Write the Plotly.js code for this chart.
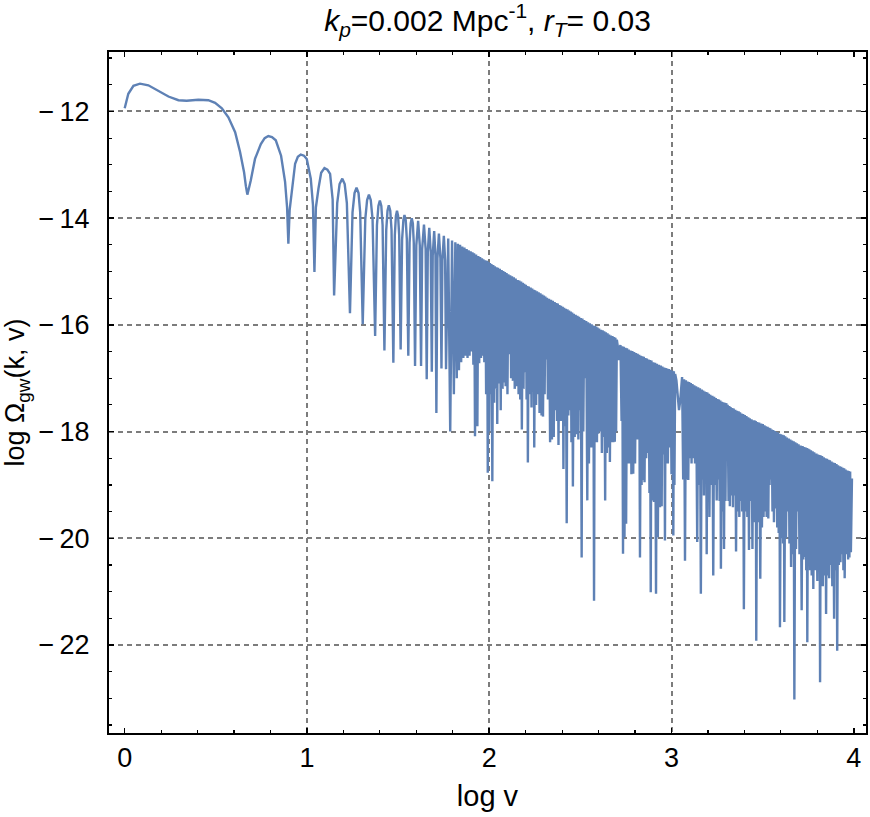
<!DOCTYPE html>
<html>
<head>
<meta charset="utf-8">
<script src="https://cdn.plot.ly/plotly-3.0.1.min.js"></script>
<style>html,body{margin:0;padding:0;background:#fff;}#chart{width:870px;height:817px;}</style>
</head>
<body>
<div id="chart"></div>
<script>
// ---- values: [log v, log Omega_gw] ----
const smoothStart = [
  [0.000,-11.94],[0.020,-11.67],[0.048,-11.52],[0.084,-11.48],[0.130,-11.51],[0.185,-11.61],
  [0.240,-11.72],[0.295,-11.79],[0.340,-11.80],[0.404,-11.78],[0.459,-11.79],[0.496,-11.84],
  [0.533,-11.94],[0.569,-12.11],[0.606,-12.39],[0.633,-12.76],[0.655,-13.14],[0.665,-13.40],
  [0.673,-13.56],[0.681,-13.45],[0.692,-13.29],[0.715,-12.89],[0.747,-12.61],[0.768,-12.50],
  [0.788,-12.46],[0.808,-12.48],[0.829,-12.54],[0.858,-12.83],[0.880,-13.32],[0.891,-13.80],
  [0.898,-14.48],[0.905,-13.85],[0.917,-13.45],[0.935,-12.98],[0.950,-12.85],[0.966,-12.81],
  [0.984,-12.83],[0.999,-12.89],[1.021,-13.26],[1.033,-13.75],[1.041,-15.01],[1.049,-13.80],
  [1.063,-13.45],[1.078,-13.15],[1.096,-13.06],[1.112,-13.09],[1.127,-13.17],[1.141,-13.65],
  [1.149,-15.45]
];
const lobes = [
  [1.166,-13.72],[1.179,-13.36],[1.194,-13.26],[1.207,-13.36],[1.219,-13.72],[1.236,-15.78],
  [1.250,-13.89],[1.261,-13.53],[1.272,-13.43],[1.283,-13.53],[1.292,-13.89],[1.306,-15.99],
  [1.320,-14.02],[1.330,-13.66],[1.340,-13.56],[1.350,-13.66],[1.360,-14.02],[1.374,-16.21],
  [1.384,-14.13],[1.392,-13.77],[1.400,-13.67],[1.408,-13.77],[1.415,-14.13],[1.425,-16.48],
  [1.435,-14.22],[1.442,-13.86],[1.449,-13.76],[1.457,-13.86],[1.464,-14.22],[1.474,-16.71],
  [1.482,-14.32],[1.488,-13.96],[1.494,-13.86],[1.500,-13.96],[1.506,-14.32],[1.514,-16.46],
  [1.522,-14.40],[1.529,-14.04],[1.535,-13.94],[1.542,-14.04],[1.548,-14.40],[1.556,-16.58],
  [1.563,-14.46],[1.569,-14.10],[1.575,-14.00],[1.581,-14.10],[1.586,-14.46],[1.593,-16.77],
  [1.600,-14.51],[1.610,-14.05],[1.619,-14.51],[1.626,-16.77],
  [1.632,-14.58],[1.642,-14.12],[1.651,-14.58],[1.657,-17.02],
  [1.663,-14.64],[1.671,-14.18],[1.679,-14.64],[1.685,-16.88],
  [1.690,-14.70],[1.698,-14.24],[1.705,-14.70],[1.710,-17.65],
  [1.716,-14.75],[1.724,-14.29],[1.732,-14.75],[1.738,-16.82],
  [1.743,-14.79],[1.751,-14.33],[1.758,-14.79],[1.763,-16.83],
  [1.775,-14.38],[1.786,-18.00],[1.796,-14.42],[1.806,-17.30],[1.814,-14.45]
];
const denseLow = [
  [1.822,-17.00],[1.828,-14.48],[1.834,-16.85],[1.840,-14.50],[1.846,-16.70],[1.852,-14.53],
  [1.858,-16.62],[1.864,-14.55],[1.870,-16.58],[1.876,-14.58],[1.881,-16.62],[1.887,-14.60],
  [1.892,-16.58],[1.898,-14.62],[1.903,-16.50],[1.908,-14.64],[1.913,-16.75],[1.917,-14.66],
  [1.922,-18.09],[1.928,-14.68],[1.935,-17.90],[1.940,-14.71],[1.945,-16.72],[1.950,-14.73],
  [1.955,-16.62],[1.960,-14.75],[1.964,-16.58],[1.968,-14.77],[1.973,-16.70],[1.978,-14.79],
  [1.983,-17.30],[1.988,-14.80],[1.992,-18.77],[1.996,-14.82],[2.000,-18.00],[2.004,-14.84],
  [2.008,-17.30],[2.012,-14.86],[2.017,-18.93],[2.022,-14.88],[2.027,-17.46],[2.031,-14.90],
  [2.036,-17.20],[2.040,-14.92],[2.044,-17.86],[2.048,-14.93],[2.053,-17.10],[2.058,-14.95],
  [2.063,-17.60],[2.068,-14.97],[2.073,-17.20],[2.077,-14.99],[2.082,-17.08],[2.086,-15.01],
  [2.090,-17.15],[2.095,-15.03],[2.100,-17.30],[2.105,-15.05],[2.110,-16.55],[2.115,-15.07],
  [2.120,-17.00],[2.125,-15.09],[2.130,-17.05],[2.135,-15.11],[2.140,-17.20],[2.145,-15.13],
  [2.151,-17.15],[2.156,-15.16],[2.161,-17.30],[2.165,-15.17],[2.170,-17.40],[2.175,-15.19],
  [2.179,-17.96],[2.184,-15.21],[2.188,-17.20],[2.192,-15.23],[2.197,-16.90],[2.201,-15.25],
  [2.205,-17.40],[2.209,-15.27],[2.212,-18.58],[2.217,-15.28],[2.222,-17.30],[2.227,-15.30],
  [2.232,-17.55],[2.236,-15.32],[2.241,-17.25],[2.244,-15.34],[2.247,-18.30],[2.252,-15.35],
  [2.257,-17.50],[2.262,-15.37],[2.266,-17.30],[2.271,-15.39],[2.276,-17.65],[2.281,-15.41],
  [2.287,-17.70],[2.291,-15.43],[2.295,-17.72],[2.300,-15.45],[2.304,-17.30],[2.308,-15.47],
  [2.313,-16.65],[2.317,-15.49],[2.322,-17.40],[2.328,-15.51],[2.334,-18.20],[2.339,-15.53],
  [2.344,-18.15],[2.349,-15.55],[2.354,-18.10],[2.359,-15.57],[2.364,-17.60],[2.368,-15.59],
  [2.372,-17.80],[2.376,-15.60],[2.380,-18.25],[2.385,-15.63],[2.390,-17.80],[2.394,-15.64],
  [2.399,-17.80],[2.403,-15.66],[2.407,-18.70],[2.411,-15.68],[2.416,-17.90],[2.420,-15.70],
  [2.425,-19.72],[2.429,-15.71],[2.434,-17.70],[2.438,-15.73],[2.443,-17.60],[2.447,-15.75],
  [2.451,-18.20],[2.455,-15.77],[2.459,-19.03],[2.464,-15.79],[2.469,-18.10],[2.474,-15.81],
  [2.480,-18.05],[2.484,-15.83],[2.489,-18.15],[2.493,-15.85],[2.498,-17.60],[2.502,-15.87],
  [2.507,-20.36],[2.511,-15.88],[2.516,-18.00],[2.521,-15.91],[2.526,-17.00],[2.532,-15.93],
  [2.538,-19.29],[2.542,-15.95],[2.547,-18.60],[2.552,-15.97],[2.557,-18.30],[2.562,-15.99],
  [2.567,-18.30],[2.571,-16.01],[2.575,-21.17],[2.579,-16.02],[2.584,-18.20],[2.587,-16.03],
  [2.591,-18.20],[2.594,-16.05],[2.598,-18.04],[2.603,-16.07],[2.608,-18.00],[2.613,-16.09],
  [2.618,-18.40],[2.622,-16.10],[2.627,-18.10],[2.631,-16.12],[2.636,-19.29],[2.640,-16.14],
  [2.645,-18.40],[2.649,-16.16],[2.654,-18.30],[2.658,-16.18],[2.662,-18.57],[2.667,-16.20],
  [2.672,-18.20],[2.676,-16.21],[2.681,-18.20],[2.685,-16.23],[2.689,-18.19],[2.692,-16.24],
  [2.696,-18.00],[2.700,-16.28],[2.705,-16.40],[2.710,-16.66],[2.715,-16.42],[2.720,-16.38]
];
const denseMid = [
  [2.726,-17.80],[2.730,-16.40],[2.734,-20.29],[2.738,-16.41],[2.742,-19.98],[2.747,-16.43],
  [2.751,-19.73],[2.756,-16.44],[2.760,-18.60],[2.765,-16.46],[2.770,-18.60],[2.775,-16.48],
  [2.780,-18.80],[2.785,-16.49],[2.790,-18.79],[2.795,-16.51],[2.800,-18.60],[2.805,-16.53],
  [2.809,-18.15],[2.814,-16.54],[2.818,-18.15],[2.823,-16.56],[2.827,-20.36],[2.832,-16.58],
  [2.836,-19.00],[2.840,-16.59],[2.843,-18.91],[2.848,-16.60],[2.852,-18.95],[2.857,-16.62],
  [2.861,-18.50],[2.865,-16.63],[2.869,-18.40],[2.874,-16.65],[2.879,-19.15],[2.882,-16.66],
  [2.886,-21.01],[2.890,-16.67],[2.895,-19.29],[2.900,-16.70],[2.904,-19.32],[2.910,-16.71],
  [2.915,-21.04],[2.920,-16.73],[2.925,-19.98],[2.931,-16.75],[2.937,-19.42],[2.941,-16.76],
  [2.946,-19.40],[2.950,-16.78],[2.955,-18.43],[2.960,-16.80],[2.964,-20.04],[2.968,-16.81],
  [2.973,-18.60],[2.976,-16.82],[2.980,-18.60],[2.985,-16.83],[2.990,-18.30],[2.995,-16.84],
  [3.000,-18.80],[3.005,-16.86],[3.010,-19.95],[3.013,-16.87],[3.016,-19.00],[3.020,-16.92],
  [3.027,-17.04],[3.034,-17.36],[3.041,-17.60],[3.047,-17.45],[3.052,-17.15],[3.058,-16.98]
];
const denseHigh = [
  [3.064,-18.90],[3.069,-17.02],[3.074,-20.42],[3.079,-17.04],[3.083,-18.90],[3.088,-17.06],
  [3.092,-18.91],[3.097,-17.07],[3.101,-18.50],[3.106,-17.09],[3.110,-18.60],[3.115,-17.11],
  [3.120,-18.50],[3.125,-17.13],[3.129,-18.60],[3.135,-17.15],[3.141,-20.07],[3.146,-17.17],
  [3.150,-19.00],[3.156,-17.19],[3.161,-21.04],[3.166,-17.21],[3.170,-18.90],[3.174,-17.23],
  [3.178,-19.20],[3.182,-17.25],[3.186,-18.90],[3.190,-17.26],[3.193,-20.30],[3.197,-17.27],
  [3.201,-19.30],[3.205,-17.29],[3.208,-19.60],[3.213,-17.31],[3.218,-19.00],[3.224,-17.33],
  [3.229,-20.70],[3.234,-17.35],[3.238,-19.00],[3.243,-17.37],[3.248,-19.29],[3.252,-17.39],
  [3.256,-18.90],[3.260,-17.40],[3.264,-19.30],[3.268,-17.42],[3.271,-20.57],[3.276,-17.44],
  [3.280,-19.50],[3.284,-17.45],[3.288,-20.20],[3.292,-17.46],[3.296,-19.30],[3.300,-17.47],
  [3.304,-17.56],[3.308,-17.50],[3.313,-19.30],[3.317,-17.52],[3.320,-19.40],[3.324,-17.54],
  [3.328,-19.20],[3.333,-17.56],[3.337,-19.42],[3.341,-17.57],[3.345,-19.20],[3.350,-17.59],
  [3.354,-20.25],[3.359,-17.61],[3.363,-19.50],[3.368,-17.62],[3.372,-19.60],[3.376,-17.64],
  [3.380,-19.30],[3.384,-17.66],[3.388,-19.50],[3.393,-17.67],[3.397,-21.33],[3.402,-17.69],
  [3.406,-19.50],[3.411,-17.71],[3.416,-19.60],[3.421,-17.73],[3.425,-20.22],[3.429,-17.75],
  [3.433,-19.30],[3.439,-17.77],[3.444,-20.20],[3.448,-17.79],[3.452,-19.60],[3.455,-17.79],
  [3.458,-19.70],[3.462,-17.80],[3.465,-21.92],[3.470,-17.82],[3.475,-19.70],[3.481,-17.83],
  [3.487,-20.76],[3.492,-17.85],[3.496,-19.80],[3.501,-17.86],[3.505,-19.60],[3.510,-17.88],
  [3.514,-19.50],[3.518,-17.90],[3.522,-19.60],[3.527,-17.91],[3.531,-19.63],[3.535,-17.93],
  [3.538,-19.00],[3.542,-17.94],[3.546,-18.90],[3.550,-17.96],[3.554,-19.50],[3.558,-17.97],
  [3.562,-19.70],[3.567,-17.99],[3.571,-19.44],[3.576,-18.01],[3.580,-19.80],[3.584,-18.02],
  [3.588,-19.90],[3.592,-18.04],[3.595,-21.67],[3.600,-18.05],[3.604,-20.00],[3.608,-18.06],
  [3.612,-20.10],[3.616,-18.07],[3.619,-21.57],[3.624,-18.09],[3.628,-20.00],[3.633,-18.11],
  [3.638,-19.50],[3.643,-18.13],[3.647,-20.10],[3.652,-18.15],[3.656,-20.54],[3.661,-18.17],
  [3.665,-20.30],[3.670,-18.18],[3.674,-23.02],[3.679,-18.20],[3.683,-20.20],[3.688,-18.22],
  [3.692,-19.50],[3.697,-18.24],[3.702,-20.30],[3.708,-18.26],[3.714,-21.35],[3.719,-18.27],
  [3.723,-20.40],[3.728,-18.29],[3.732,-20.35],[3.736,-18.30],[3.739,-20.60],[3.742,-18.31],
  [3.745,-21.95],[3.749,-18.32],[3.752,-20.50],[3.756,-18.33],[3.760,-20.60],[3.765,-18.35],
  [3.769,-20.70],[3.774,-18.37],[3.778,-20.95],[3.783,-18.39],[3.789,-20.60],[3.795,-18.41],
  [3.800,-20.80],[3.804,-18.43],[3.808,-20.50],[3.812,-18.44],[3.815,-22.70],[3.819,-18.45],
  [3.822,-20.60],[3.826,-18.46],[3.830,-20.90],[3.835,-18.48],[3.839,-20.70],[3.844,-18.50],
  [3.848,-21.42],[3.853,-18.51],[3.857,-20.70],[3.861,-18.53],[3.865,-20.75],[3.869,-18.54],
  [3.873,-20.50],[3.878,-18.56],[3.882,-20.90],[3.887,-18.58],[3.892,-21.51],[3.896,-18.59],
  [3.900,-20.60],[3.905,-18.61],[3.909,-22.11],[3.914,-18.63],[3.918,-20.50],[3.923,-18.65],
  [3.927,-20.45],[3.931,-18.66],[3.935,-20.30],[3.939,-18.68],[3.943,-20.60],[3.947,-18.69],
  [3.950,-20.75],[3.955,-18.71],[3.960,-20.30],[3.965,-18.73],[3.969,-20.40],[3.972,-18.74],
  [3.976,-20.36],[3.980,-18.75],[3.984,-20.26],[3.990,-18.88]
];
const xTickVals = [0, 1, 2, 3, 4];
const xGridVals = [1, 2, 3];
const yTickVals = [-22, -20, -18, -16, -14, -12];
const yTickText = ['\u2212\u200922', '\u2212\u200920', '\u2212\u200918', '\u2212\u200916', '\u2212\u200914', '\u2212\u200912'];

// ---- build the curve ----
const curve = smoothStart.concat(lobes, denseLow, denseMid, denseHigh);
const logV = curve.map(p => p[0]);
const logOmega = curve.map(p => p[1]);

const FONT = "'Liberation Sans', Arial, Helvetica, sans-serif";
const gridStyle = {showgrid: true, gridcolor: '#7c7c7c', gridwidth: 2, griddash: '5px,4px'};

const data = [{
  type: 'scatter', mode: 'lines', x: logV, y: logOmega,
  line: {color: '#5E81B5', width: 2.4, shape: 'linear'},
  hoverinfo: 'skip', showlegend: false
}, {
  // invisible point so the overlay axis carrying the x grid (1,2,3) is drawn
  type: 'scatter', mode: 'markers', x: [xGridVals[0]], y: [yTickVals[0]], xaxis: 'x2', yaxis: 'y',
  marker: {opacity: 0}, hoverinfo: 'skip', showlegend: false
}];

const layout = {
  width: 870, height: 817,
  margin: {l: 109, r: 4, t: 52, b: 84, pad: 0},
  paper_bgcolor: '#ffffff', plot_bgcolor: '#ffffff',
  showlegend: false,
  font: {family: FONT, size: 27, color: '#000'},
  title: {
    text: '<i>k</i><sub><i>p</i></sub>=0.002 Mpc<sup>-1</sup>, <i>r</i><sub><i>T</i></sub>= 0.03',
    font: {family: FONT, size: 30, color: '#000'},
    xref: 'paper', x: 0.5, xanchor: 'center',
    yref: 'container', y: 0.975, yanchor: 'middle'
  },
  xaxis: {
    range: [-0.086, 4.067], tickmode: 'array', tickvals: xTickVals,
    ticks: 'inside', ticklen: 5, tickwidth: 1.5, tickcolor: '#000',
    showline: true, linecolor: '#000', linewidth: 2, mirror: 'ticks',
    showgrid: false, zeroline: false,
    minor: {dtick: 0.2, tick0: 0, ticks: 'inside', ticklen: 3, tickwidth: 1.2, tickcolor: '#000', showgrid: false},
    tickfont: {family: FONT, size: 27, color: '#000'},
    ticklabelstandoff: 0,
    title: {text: 'log v', font: {family: FONT, size: 29, color: '#000'}, standoff: 13}
  },
  xaxis2: Object.assign({
    overlaying: 'x', matches: 'x', anchor: 'y', range: [-0.086, 4.067],
    tickmode: 'array', tickvals: xGridVals, showticklabels: false, ticks: '',
    showline: false, zeroline: false
  }, gridStyle),
  yaxis: Object.assign({
    range: [-23.65, -10.886], tickmode: 'array', tickvals: yTickVals, ticktext: yTickText,
    ticks: 'inside', ticklen: 5, tickwidth: 1.5, tickcolor: '#000',
    showline: true, linecolor: '#000', linewidth: 2, mirror: 'ticks',
    zeroline: false,
    minor: {dtick: 0.5, tick0: 0, ticks: 'inside', ticklen: 3, tickwidth: 1.2, tickcolor: '#000', showgrid: false},
    tickfont: {family: FONT, size: 27, color: '#000'},
    ticklabelstandoff: 12,
    title: {text: 'log Ω<sub>gw</sub>(k, v)', font: {family: FONT, size: 27, color: '#000'}, standoff: 6}
  }, gridStyle)
};

Plotly.newPlot('chart', data, layout, {staticPlot: true, displayModeBar: false});
</script>
</body>
</html>
